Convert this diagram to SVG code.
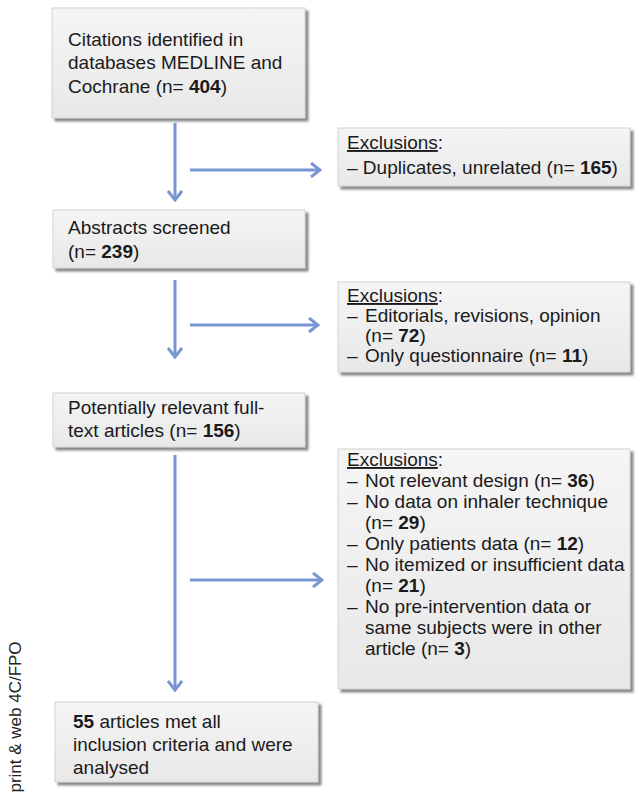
<svg xmlns="http://www.w3.org/2000/svg" width="641" height="802" viewBox="0 0 641 802">
<style>
text{font-family:"Liberation Sans",Arial,sans-serif;font-size:19px;fill:#1a1a1a}
.b{font-weight:bold}
.u{text-decoration:underline}
.box{fill:url(#g);stroke:#d2d2d2;stroke-width:1;filter:url(#sh)}
.c{stroke:#7796d2;stroke-width:3;fill:none}
.side{font-size:17px;fill:#222}
</style>
<defs>
<linearGradient id="g" x1="0" y1="0" x2="0" y2="1">
<stop offset="0" stop-color="#f5f5f5"/>
<stop offset="1" stop-color="#e8e8e8"/>
</linearGradient>
<filter id="sh" x="-5%" y="-5%" width="115%" height="120%">
<feDropShadow dx="3" dy="3" stdDeviation="1" flood-color="#555" flood-opacity="0.7"/>
</filter>
<marker id="arr" viewBox="0 0 12 16" markerWidth="12" markerHeight="16" refX="10" refY="8" orient="auto" markerUnits="userSpaceOnUse">
<path d="M1,1 L10,8 L1,15" fill="none" stroke="#7796d2" stroke-width="3"/>
</marker>
</defs>
<rect width="641" height="802" fill="#fff"/>

<g id="connectors">
<line class="c" x1="175" y1="123" x2="175" y2="200" marker-end="url(#arr)"/>
<line class="c" x1="190" y1="170" x2="320" y2="170" marker-end="url(#arr)"/>
<line class="c" x1="175" y1="280" x2="175" y2="357" marker-end="url(#arr)"/>
<line class="c" x1="190" y1="325" x2="318" y2="325" marker-end="url(#arr)"/>
<line class="c" x1="175" y1="455" x2="175" y2="690" marker-end="url(#arr)"/>
<line class="c" x1="190" y1="580" x2="322" y2="580" marker-end="url(#arr)"/>
</g>

<g id="citations">
<rect class="box" x="52" y="8" width="253" height="110"/>
<text x="68" y="46">Citations identified in</text>
<text x="68" y="69">databases MEDLINE and</text>
<text x="68" y="93">Cochrane (n= <tspan class="b">404</tspan>)</text>
</g>

<g id="excl1">
<rect class="box" x="338" y="128" width="292" height="58"/>
<text x="347" y="149"><tspan class="u">Exclusions</tspan>:</text>
<text x="347" y="174">– Duplicates, unrelated (n= <tspan class="b">165</tspan>)</text>
</g>

<g id="abstracts">
<rect class="box" x="53" y="210" width="252" height="58"/>
<text x="68" y="234">Abstracts screened</text>
<text x="68" y="258">(n= <tspan class="b">239</tspan>)</text>
</g>

<g id="excl2">
<rect class="box" x="338" y="282" width="292" height="90"/>
<text x="347" y="302"><tspan class="u">Exclusions</tspan>:</text>
<text x="347" y="322">–</text>
<text x="365" y="322">Editorials, revisions, opinion</text>
<text x="365" y="342">(n= <tspan class="b">72</tspan>)</text>
<text x="347" y="362">–</text>
<text x="365" y="362">Only questionnaire (n= <tspan class="b">11</tspan>)</text>
</g>

<g id="fulltext">
<rect class="box" x="53" y="393" width="252" height="54"/>
<text x="68" y="414">Potentially relevant full-</text>
<text x="68" y="437">text articles (n= <tspan class="b">156</tspan>)</text>
</g>

<g id="excl3">
<rect class="box" x="338" y="449" width="292" height="240"/>
<text x="347" y="466"><tspan class="u">Exclusions</tspan>:</text>
<text x="347" y="487">–</text>
<text x="365" y="487">Not relevant design (n= <tspan class="b">36</tspan>)</text>
<text x="347" y="508">–</text>
<text x="365" y="508">No data on inhaler technique</text>
<text x="365" y="529">(n= <tspan class="b">29</tspan>)</text>
<text x="347" y="550">–</text>
<text x="365" y="550">Only patients data (n= <tspan class="b">12</tspan>)</text>
<text x="347" y="571">–</text>
<text x="365" y="571">No itemized or insufficient data</text>
<text x="365" y="592">(n= <tspan class="b">21</tspan>)</text>
<text x="347" y="613">–</text>
<text x="365" y="613">No pre-intervention data or</text>
<text x="365" y="634">same subjects were in other</text>
<text x="365" y="655">article (n= <tspan class="b">3</tspan>)</text>
</g>

<g id="included">
<rect class="box" x="55" y="702" width="263" height="80"/>
<text x="73" y="728"><tspan class="b">55</tspan> articles met all</text>
<text x="73" y="751">inclusion criteria and were</text>
<text x="73" y="774">analysed</text>
</g>

<text class="side" transform="translate(21,717) rotate(-90)" text-anchor="middle">print &amp; web 4C/FPO</text>
</svg>
